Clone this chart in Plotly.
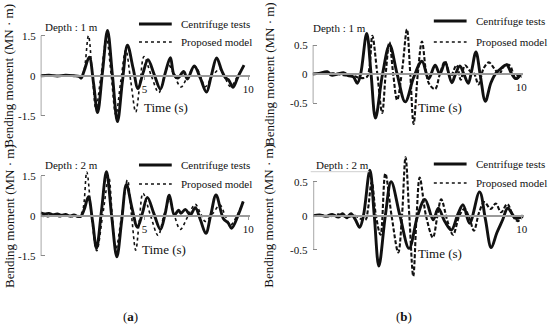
import plotly.graph_objects as go

W, H = 550, 330
FONT = "'Liberation Serif', 'Times New Roman', 'DejaVu Serif', serif"

# ---------------- data ----------------
# (a) depth 1 m
a1_test_t = [0, 0.4, 0.8, 1.2, 1.6, 1.85, 1.95, 2.1, 2.34, 2.55, 2.74, 2.98, 3.22, 3.46, 3.70, 3.94, 4.18, 4.45, 4.69, 4.93,
             5.17, 5.47, 5.77, 6.0, 6.25, 6.42, 6.62, 6.89, 7.07, 7.4, 7.7, 7.99, 8.22, 8.48, 8.72, 8.9, 9.05, 9.27, 9.5, 9.8]
a1_test_v = [0, 0.02, -0.01, 0.02, 0.0, -0.02, -0.09, 0.2, 0.7, -0.3, -1.38, 0.16, 1.7, 0.0, -1.72, -0.2, 1.15, 0.3, -0.48, 0.1,
             0.6, 0.05, -0.5, 0.1, 0.68, 0.05, -0.08, 0.16, -0.12, 0.37, -0.1, -0.61, 0.0, 0.67, 0.2, -0.07, -0.15, -0.43, -0.05, 0.4]
a1_model_t = [0, 0.5, 1.0, 1.5, 1.9, 2.05, 2.3, 2.48, 2.66, 2.92, 3.17, 3.4, 3.62, 3.86, 4.1, 4.34, 4.58, 4.78, 4.98, 5.33,
              5.69, 5.93, 6.17, 6.45, 6.76, 7.1, 7.45, 7.7, 7.93, 8.28, 8.64, 8.9, 9.15, 9.5, 9.8]
a1_model_v = [0, 0.01, 0, 0.01, 0.0, 0.1, 1.5, 0.1, -1.22, 0.1, 1.4, 0.0, -1.47, -0.2, 0.97, -0.2, -1.36, -0.3, 0.72, 0.0,
              -0.63, -0.1, 0.4, 0.0, -0.42, 0.0, 0.34, 0.0, -0.41, 0.0, 0.25, -0.1, -0.41, 0.0, 0.4]

# (a) depth 2 m
a2_test_t = [0, 0.2, 0.4, 0.6, 0.8, 1.0, 1.2, 1.4, 1.6, 1.8, 1.95, 2.1, 2.30, 2.5, 2.69, 2.93, 3.17, 3.42, 3.67, 3.9, 4.13,
             4.4, 4.66, 4.9, 5.14, 5.45, 5.77, 6.0, 6.2, 6.44, 6.65, 6.76, 6.97, 7.21, 7.45, 7.7, 7.96, 8.2, 8.45, 8.8,
             9.04, 9.2, 9.5, 9.76]
a2_test_v = [0.12, 0.08, 0.1, 0.05, 0.08, 0.03, 0.06, 0.0, 0.04, -0.02, 0.0, 0.25, 0.72, -0.2, -1.21, 0.2, 1.66, 0.0, -1.53,
             -0.2, 1.18, 0.3, -0.42, 0.1, 0.7, 0.1, -0.5, 0.1, 0.78, 0.03, 0.22, 0.1, 0.25, 0.04, 0.31, -0.15, -0.65, 0.05,
             0.79, -0.09, -0.27, -0.46, 0.0, 0.54]
a2_model_t = [0, 0.3, 0.6, 0.9, 1.2, 1.5, 1.8, 2.0, 2.22, 2.45, 2.7, 3.0, 3.28, 3.45, 3.62, 3.9, 4.18, 4.38, 4.58, 4.75,
              4.93, 5.3, 5.66, 5.93, 6.2, 6.45, 6.73, 7.1, 7.45, 7.7, 7.93, 8.3, 8.64, 8.9, 9.15, 9.45, 9.76]
a2_model_v = [0.0, -0.03, 0.02, -0.03, 0.01, -0.03, 0.0, 0.15, 1.65, 0.0, -1.3, 0.1, 1.45, 0.0, -1.25, 0.0, 1.35, 0.0,
              -1.28, -0.2, 0.85, 0.0, -0.73, 0.0, 0.6, 0.0, -0.5, 0.0, 0.44, 0.1, -0.2, 0.1, 0.41, 0.0, -0.34, 0.0, 0.54]

# (b) depth 1 m
b1_test_t = [0, 0.3, 0.7, 0.9, 1.2, 1.5, 1.7, 1.95, 2.14, 2.3, 2.59, 2.8, 3.01, 3.35, 3.69, 4.05, 4.44, 4.85, 5.24, 5.56,
             5.87, 6.1, 6.35, 6.67, 6.85, 7.06, 7.25, 7.46, 7.62, 7.83, 8.05, 8.28, 8.55, 8.8, 9.05, 9.3, 9.55, 9.75, 10.0]
b1_test_v = [0, 0.01, 0.04, -0.02, 0.0, 0.02, -0.03, -0.05, -0.16, 0.0, 0.70, 0.0, -0.76, 0.0, 0.5, 0.0, -0.48, -0.05, 0.22,
             -0.08, 0.15, 0.0, 0.2, -0.15, 0.0, 0.14, 0.0, -0.16, 0.05, 0.38, -0.05, -0.47, -0.15, 0.02, 0.1, 0.16, 0.0,
             -0.08, 0.0]
b1_model_t = [0, 0.5, 1.0, 1.5, 2.0, 2.3, 2.6, 2.72, 2.86, 3.1, 3.33, 3.5, 3.68, 3.86, 4.05, 4.3, 4.52, 4.68, 4.84, 5.04,
              5.24, 5.45, 5.6, 5.87, 6.1, 6.35, 6.6, 6.9, 7.1, 7.3, 7.55, 7.75, 7.95, 8.2, 8.45, 8.7, 8.95, 9.2, 9.45,
              9.7, 9.9]
b1_model_v = [0, 0.0, 0.01, -0.02, -0.04, -0.07, -0.05, 0.1, 0.66, 0.0, -0.67, 0.0, 0.55, 0.0, -0.45, 0.1, 0.77, 0.0,
              -0.86, 0.0, 0.56, 0.0, -0.18, -0.26, 0.0, 0.22, -0.05, 0.15, -0.1, 0.15, 0.05, 0.0, -0.18, 0.1, 0.2, 0.1,
              0.0, 0.15, 0.15, -0.05, 0.0]

# (b) depth 2 m
b2_test_t = [0, 0.3, 0.6, 0.9, 1.2, 1.4, 1.6, 1.8, 2.0, 2.22, 2.4, 2.71, 2.92, 3.14, 3.45, 3.73, 4.15, 4.59, 5.0, 5.35,
             5.75, 5.99, 6.31, 6.62, 6.94, 7.18, 7.49, 7.97, 8.25, 8.53, 8.8, 9.08, 9.32, 9.71, 10.05]
b2_test_v = [0, 0.01, -0.01, 0.02, -0.02, 0.03, -0.03, 0.03, -0.05, -0.17, 0.0, 0.67, 0.0, -0.74, 0.0, 0.5, 0.0, -0.48,
             0.0, 0.24, -0.06, 0.11, -0.09, -0.21, 0.03, 0.16, -0.11, 0.35, -0.05, -0.47, -0.25, -0.06, 0.11, -0.04, 0.0]
b2_model_t = [0, 0.4, 0.8, 1.2, 1.6, 2.0, 2.3, 2.5, 2.62, 2.8, 3.0, 3.22, 3.45, 3.75, 4.07, 4.25, 4.42, 4.6, 4.79, 4.95,
              5.1, 5.4, 5.73, 5.95, 6.13, 6.45, 6.7, 7.0, 7.25, 7.5, 7.7, 7.95, 8.2, 8.5, 8.75, 9.0, 9.3, 9.6, 9.8, 10.05]
b2_model_v = [0, 0.01, -0.01, 0.02, -0.02, 0.0, -0.05, -0.06, 0.1, 0.5, 0.0, -0.28, 0.62, 0.0, -0.54, 0.0, 0.86, 0.0,
              -0.89, 0.0, 0.56, 0.0, -0.32, 0.0, 0.24, -0.1, -0.28, 0.0, 0.1, -0.05, -0.22, 0.05, 0.2, 0.1, 0.18, 0.05,
              0.17, -0.02, -0.08, 0.0]

series_names = ["Centrifuge tests", "Proposed model"]
depth_labels = ["Depth : 1 m", "Depth : 2 m", "Depth : 1 m", "Depth : 2 m"]
ytick_vals_a = [-1.5, 0, 1.5]
ytick_vals_b = [-0.5, 0, 0.5]
xticks_a = [5, 10]
xticks_b = [10]

# ---------------- layout helpers ----------------
def fx(px):
    return px / W


def fy(py):
    return 1 - py / H


panels = [
    dict(s="", data=(a1_test_t, a1_test_v, a1_model_t, a1_model_v), x0=41, pps=20.9, zero=75.8, ppu=40 / 1.5,
         yr=2.0, yt=ytick_vals_a, xt=xticks_a, dash="dot", dw=1.6, depth=depth_labels[0],
         depth_xy=(72, 27), leg_x=140, leg_y=(24, 42), time_xy=(167, 107)),
    dict(s="2", data=(a2_test_t, a2_test_v, a2_model_t, a2_model_v), x0=41, pps=20.9, zero=216, ppu=40 / 1.5,
         yr=2.0, yt=ytick_vals_a, xt=xticks_a, dash="dot", dw=1.6, depth=depth_labels[1],
         depth_xy=(72, 165), leg_x=140, leg_y=(165, 184), time_xy=(165, 249)),
    dict(s="3", data=(b1_test_t, b1_test_v, b1_model_t, b1_model_v), x0=315, pps=21.0, zero=74, ppu=58,
         yr=1.0, yt=ytick_vals_b, xt=xticks_b, dash="4px,2px", dw=2.1, depth=depth_labels[2],
         depth_xy=(342, 28), leg_x=437, leg_y=(21, 42), time_xy=(443, 107)),
    dict(s="4", data=(b2_test_t, b2_test_v, b2_model_t, b2_model_v), x0=315.7, pps=21.0, zero=215.7, ppu=68,
         yr=1.0, yt=ytick_vals_b, xt=xticks_b, dash="4px,2px", dw=2.1, depth=depth_labels[3],
         depth_xy=(345, 165), leg_x=437, leg_y=(164, 183), time_xy=(443, 253)),
]

fig = go.Figure()
shapes = []
annotations = []
layout = {}
XMAX = 10.1
tickfont = dict(family=FONT, size=11, color="#111")

for p in panels:
    s = p["s"]
    tt, tv, mt, mv = p["data"]
    xa, ya = "x" + s, "y" + s
    fig.add_trace(go.Scatter(x=tt, y=tv, xaxis=xa, yaxis=ya, mode="lines", name=series_names[0], showlegend=False,
                             line=dict(color="#111", width=2.9, shape="spline", smoothing=1.0)))
    fig.add_trace(go.Scatter(x=mt, y=mv, xaxis=xa, yaxis=ya, mode="lines", name=series_names[1], showlegend=False,
                             line=dict(color="#111", width=p["dw"], dash=p["dash"], shape="spline", smoothing=1.0)))

    xdom = [fx(p["x0"]), fx(p["x0"] + XMAX * p["pps"])]
    ytop = p["zero"] - p["yr"] * p["ppu"]
    ybot = p["zero"] + p["yr"] * p["ppu"]
    ydom = [fy(ybot), fy(ytop)]
    layout["xaxis" + s] = dict(domain=xdom, range=[0, XMAX], anchor="free", position=fy(p["zero"]),
                               showline=True, linecolor="#9a9a9a", linewidth=1.5, showgrid=False, zeroline=False,
                               tickvals=p["xt"], ticktext=[str(v) for v in p["xt"]], ticks="outside", ticklen=3,
                               tickcolor="#9a9a9a", tickfont=tickfont)
    layout["yaxis" + s] = dict(domain=ydom, range=[-p["yr"], p["yr"]], anchor=xa, showline=False, showgrid=False,
                               zeroline=False, tickvals=p["yt"], showticklabels=False,
                               ticks="inside", ticklen=4, tickcolor="#8a8a8a", tickwidth=1.2)
    for v in p["yt"]:
        annotations.append(dict(text="%g" % v, x=0, y=v, xref=xa, yref=ya, showarrow=False, xanchor="right",
                                yanchor="middle", xshift=-3, font=tickfont))
    shapes.append(dict(type="line", xref=xa, yref=ya, x0=0, x1=0, y0=p["yt"][0], y1=p["yt"][-1],
                       line=dict(color="#8a8a8a", width=1.5)))
    lx = p["leg_x"]
    shapes.append(dict(type="line", xref="paper", yref="paper", x0=fx(lx), x1=fx(lx + 33),
                       y0=fy(p["leg_y"][0]), y1=fy(p["leg_y"][0]), line=dict(color="#111", width=2.8)))
    shapes.append(dict(type="line", xref="paper", yref="paper", x0=fx(lx), x1=fx(lx + 33),
                       y0=fy(p["leg_y"][1]), y1=fy(p["leg_y"][1]), line=dict(color="#111", width=1.3, dash="dot")))
    for name, ly in zip(series_names, p["leg_y"]):
        annotations.append(dict(text=name, x=fx(lx + 40), y=fy(ly), xref="paper", yref="paper", showarrow=False,
                                xanchor="left", yanchor="middle", font=tickfont))
    annotations.append(dict(text=p["depth"], x=fx(p["depth_xy"][0]), y=fy(p["depth_xy"][1]), xref="paper",
                            yref="paper", showarrow=False, xanchor="center", yanchor="middle", font=tickfont))
    annotations.append(dict(text="Time (s)", x=fx(p["time_xy"][0]), y=fy(p["time_xy"][1]), xref="paper",
                            yref="paper", showarrow=False, xanchor="center", yanchor="middle",
                            font=dict(family=FONT, size=13, color="#111")))
    title_x = 9 if p["x0"] < 100 else 271
    annotations.append(dict(text="Bending moment (MN · m)", x=fx(title_x), y=fy(p["zero"]), xref="paper",
                            yref="paper", showarrow=False, textangle=-90, xanchor="center", yanchor="middle",
                            font=dict(family=FONT, size=13, color="#111")))

shapes.append(dict(type="line", xref="paper", yref="paper", x0=fx(313), x1=fx(372), y0=fy(171.7), y1=fy(171.7),
                   line=dict(color="#cfcfcf", width=1)))

annotations.append(dict(text="(<b>a</b>)", x=fx(131), y=fy(316), xref="paper", yref="paper", showarrow=False,
                        xanchor="center", yanchor="middle", font=dict(family=FONT, size=13, color="#111")))
annotations.append(dict(text="(<b>b</b>)", x=fx(407), y=fy(316), xref="paper", yref="paper", showarrow=False,
                        xanchor="center", yanchor="middle", font=dict(family=FONT, size=13, color="#111")))

fig.update_layout(width=W, height=H, margin=dict(l=0, r=0, t=0, b=0), paper_bgcolor="white",
                  plot_bgcolor="white", showlegend=False, shapes=shapes, annotations=annotations, **layout)

fig.write_html("out.html", config={"displayModeBar": False},
               post_script="document.body.style.margin='0';document.body.style.overflow='hidden';")
